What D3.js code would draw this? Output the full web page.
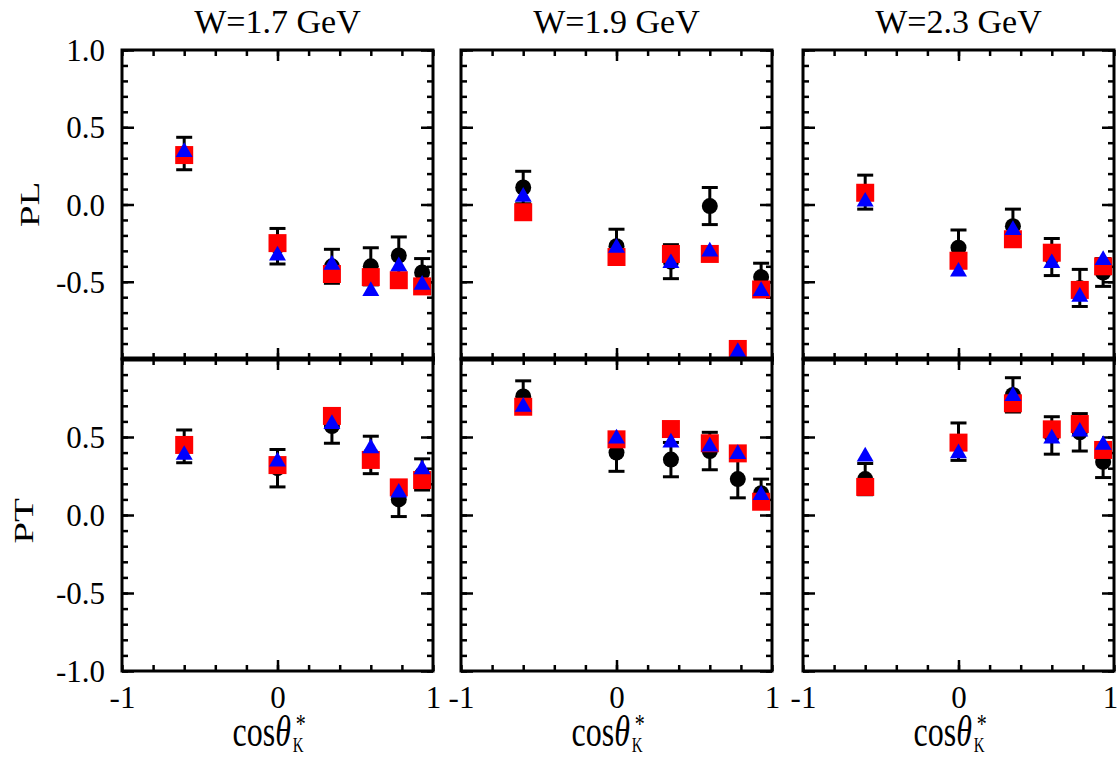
<!DOCTYPE html>
<html>
<head>
<meta charset="utf-8">
<script src="https://cdn.jsdelivr.net/npm/d3@7"></script>
<style>
  body { margin: 0; background: #fff; }
  text { font-family: "Liberation Serif", "Times New Roman", serif; fill: #000; }
</style>
</head>
<body>
<div id="chart"></div>
<script>
// cos(theta_K*) bin centres, same for every panel
const cosTheta = [-0.6, 0, 0.35, 0.6, 0.78, 0.93];
const energies = ["W=1.7 GeV", "W=1.9 GeV", "W=2.3 GeV"];
const rowLabels = ["PL", "PT"];
const yTicksUpper = [1.0, 0.5, 0.0, -0.5];
const yTicksLower = [0.5, 0.0, -0.5, -1.0];
const xTickLabels = [-1, 0, 1];

// PL, one row per W (data with errors, red model, blue model)
const plData = [
  [0.33, -0.27, -0.40, -0.40, -0.33, -0.44],
  [0.11, -0.27, -0.37, -0.01, null, -0.47],
  [0.08, -0.28, -0.14, -0.34, -0.54, -0.44],
];
const plErr = [
  [0.105, 0.115, 0.11, 0.12, 0.12, 0.09],
  [0.105, 0.11, 0.11, 0.12, 0, 0.09],
  [0.11, 0.115, 0.11, 0.12, 0.12, 0.09],
];
const plRed = [
  [0.32, -0.25, -0.45, -0.47, -0.49, -0.53],
  [-0.05, -0.34, -0.32, -0.32, -0.935, -0.55],
  [0.076, -0.364, -0.225, -0.312, -0.553, -0.40],
];
const plBlue = [
  [0.34, -0.33, -0.39, -0.56, -0.40, -0.52],
  [0.05, -0.28, -0.38, -0.305, -0.955, -0.56],
  [0.018, -0.435, -0.165, -0.38, -0.597, -0.36],
];

// PT
const ptData = [
  [0.44, 0.30, 0.57, 0.385, 0.10, 0.26],
  [0.76, 0.40, 0.355, 0.41, 0.23, 0.14],
  [0.23, 0.47, 0.77, 0.51, 0.53, 0.34],
];
const ptErr = [
  [0.105, 0.12, 0.11, 0.12, 0.11, 0.1],
  [0.1, 0.12, 0.11, 0.12, 0.12, 0.09],
  [0.1, 0.12, 0.11, 0.12, 0.12, 0.1],
];
const ptRed = [
  [0.449, 0.32, 0.635, 0.353, 0.177, 0.224],
  [0.694, 0.485, 0.551, 0.46, 0.395, 0.085],
  [0.18, 0.464, 0.716, 0.549, 0.583, 0.417],
];
const ptBlue = [
  [0.385, 0.342, 0.583, 0.427, 0.143, 0.293],
  [0.694, 0.49, 0.464, 0.438, 0.39, 0.128],
  [0.374, 0.395, 0.763, 0.49, 0.534, 0.449],
];

let width = 1119,
  height = 757;
let panelLeft = [122, 461, 803],
  panelWidth = 311;
let plotTop = 50,
  plotMid = 359,
  plotBottom = 671;

let svg = d3
  .select("#chart")
  .append("svg")
  .attr("width", width)
  .attr("height", height);

let rows = [
  {
    label: rowLabels[0],
    data: plData, err: plErr, red: plRed, blue: plBlue,
    y: d3.scaleLinear().domain([-1, 1]).range([plotMid, plotTop]),
    ticks: yTicksUpper,
  },
  {
    label: rowLabels[1],
    data: ptData, err: ptErr, red: ptRed, blue: ptBlue,
    y: d3.scaleLinear().domain([-1, 1]).range([plotBottom, plotMid]),
    ticks: yTicksLower,
  },
];

let fmtY = (d) => d.toFixed(1);
let noDomain = (g) => g.select(".domain").remove();

function tickAxis(axis, values, size) {
  return axis.tickValues(values).tickSize(size).tickFormat("");
}

let circle = d3.symbol().type(d3.symbolCircle).size(Math.PI * 64);
let square = d3.symbol().type(d3.symbolSquare).size(18 * 18);
let triangle = d3.symbol().type(d3.symbolTriangle).size(125);

energies.forEach((title, c) => {
  let x = d3
    .scaleLinear()
    .domain([-1, 1])
    .range([panelLeft[c], panelLeft[c] + panelWidth]);
  let xMinor = x.ticks(8);

  svg
    .append("text")
    .attr("x", x(0))
    .attr("y", 33)
    .attr("text-anchor", "middle")
    .style("font-size", "34px")
    .text(title);

  rows.forEach((row, r) => {
    let y = row.y;
    let g = svg.append("g");
    let yMinor = y.ticks(20);
    let yMajor = y.ticks(4);
    let y0 = y.range()[1],
      y1 = y.range()[0];

    // inward ticks on all four sides
    g.append("g")
      .attr("transform", "translate(" + x(-1) + ",0)")
      .call(tickAxis(d3.axisLeft(y), yMinor, -6))
      .call(noDomain);
    g.append("g")
      .attr("transform", "translate(" + x(-1) + ",0)")
      .call(tickAxis(d3.axisLeft(y), yMajor, -12))
      .call(noDomain);
    g.append("g")
      .attr("transform", "translate(" + x(1) + ",0)")
      .call(tickAxis(d3.axisRight(y), yMinor, -6))
      .call(noDomain);
    g.append("g")
      .attr("transform", "translate(" + x(1) + ",0)")
      .call(tickAxis(d3.axisRight(y), yMajor, -12))
      .call(noDomain);
    g.append("g")
      .attr("transform", "translate(0," + y0 + ")")
      .call(tickAxis(d3.axisTop(x), xMinor, -6))
      .call(noDomain);
    g.append("g")
      .attr("transform", "translate(0," + y0 + ")")
      .call(tickAxis(d3.axisTop(x), [0], -11))
      .call(noDomain);
    g.append("g")
      .attr("transform", "translate(0," + y1 + ")")
      .call(tickAxis(d3.axisBottom(x), xMinor, -6))
      .call(noDomain);
    g.append("g")
      .attr("transform", "translate(0," + y1 + ")")
      .call(tickAxis(d3.axisBottom(x), [0], -11))
      .call(noDomain);
    g.selectAll(".tick line").attr("stroke", "#000").attr("stroke-width", 2.5);

    g.append("rect")
      .attr("x", x(-1))
      .attr("y", y0)
      .attr("width", x(1) - x(-1))
      .attr("height", y1 - y0)
      .attr("fill", "none")
      .attr("stroke", "#000")
      .attr("stroke-width", 3);

    // y tick labels only on the first column
    if (c === 0) {
      g.append("g")
        .attr("transform", "translate(" + x(-1) + ",0)")
        .call(d3.axisLeft(y).tickValues(row.ticks).tickSize(0).tickPadding(17).tickFormat(fmtY))
        .call(noDomain)
        .selectAll("text")
        .attr("font-family", '"Liberation Serif", "Times New Roman", serif')
        .style("font-size", "31px")
        .attr("dy", "0.34em");

      let ly = r === 0 ? y(0) : y(0) + 6;
      let lx = r === 0 ? 39 : 33;
      svg
        .append("text")
        .attr("transform", "translate(" + lx + "," + ly + ") scale(1,1.45) rotate(-90)")
        .attr("text-anchor", "middle")
        .style("font-size", "27px")
        .text(row.label);
    }

    let pts = cosTheta.map((v, i) => ({
      x: v,
      d: row.data[c][i],
      e: row.err[c][i],
      red: row.red[c][i],
      blue: row.blue[c][i],
    }));
    let meas = pts.filter((p) => p.d !== null);

    // error bars
    let eb = g.append("g").attr("stroke", "#000").attr("stroke-width", 3);
    eb.selectAll(".bar")
      .data(meas)
      .join("line")
      .attr("class", "bar")
      .attr("x1", (p) => x(p.x))
      .attr("x2", (p) => x(p.x))
      .attr("y1", (p) => y(p.d - p.e))
      .attr("y2", (p) => y(p.d + p.e));
    eb.selectAll(".capTop")
      .data(meas)
      .join("line")
      .attr("class", "capTop")
      .attr("x1", (p) => x(p.x) - 8)
      .attr("x2", (p) => x(p.x) + 8)
      .attr("y1", (p) => y(p.d + p.e))
      .attr("y2", (p) => y(p.d + p.e));
    eb.selectAll(".capBot")
      .data(meas)
      .join("line")
      .attr("class", "capBot")
      .attr("x1", (p) => x(p.x) - 8)
      .attr("x2", (p) => x(p.x) + 8)
      .attr("y1", (p) => y(p.d - p.e))
      .attr("y2", (p) => y(p.d - p.e));

    g.selectAll(".dot")
      .data(meas)
      .join("path")
      .attr("class", "dot")
      .attr("d", circle)
      .attr("transform", (p) => "translate(" + x(p.x) + "," + y(p.d) + ")")
      .attr("fill", "#000");
    g.selectAll(".sq")
      .data(pts)
      .join("path")
      .attr("class", "sq")
      .attr("d", square)
      .attr("transform", (p) => "translate(" + x(p.x) + "," + y(p.red) + ")")
      .attr("fill", "#ff0000");
    g.selectAll(".tri")
      .data(pts)
      .join("path")
      .attr("class", "tri")
      .attr("d", triangle)
      .attr("transform", (p) => "translate(" + x(p.x) + "," + y(p.blue) + ")")
      .attr("fill", "#0000ff");
  });

  // thicker shared line between PL and PT
  svg
    .append("line")
    .attr("x1", x(-1))
    .attr("x2", x(1) + 2)
    .attr("y1", plotMid)
    .attr("y2", plotMid)
    .attr("stroke", "#000")
    .attr("stroke-width", 5);

  // x tick labels (last "1" nudged in so it stays on the page)
  svg
    .append("g")
    .attr("transform", "translate(0," + plotBottom + ")")
    .call(d3.axisBottom(x).tickValues(xTickLabels).tickSize(0).tickPadding(15).tickFormat((d) => String(d)))
    .call(noDomain)
    .selectAll("text")
    .attr("font-family", '"Liberation Serif", "Times New Roman", serif')
    .attr("dx", (d) => (c === energies.length - 1 && d === 1 ? -4 : 0))
    .style("font-size", "31px");

  // cos theta_K^* label, one text with super/subscript tspans,
  // stretched vertically like the original
  let lab = svg
    .append("g")
    .attr("transform", "translate(" + (x(0) - 45) + ",746) scale(1,1.4)");
  let main = lab.append("text").style("font-size", "32px");
  main.append("tspan").text("cos");
  main.append("tspan").style("font-style", "italic").text("θ");
  main.append("tspan")
    .attr("dx", 5)
    .attr("dy", -9)
    .style("font-size", "20px")
    .text("*");
  main.append("tspan")
    .attr("dx", -13)
    .attr("dy", 13)
    .style("font-size", "15px")
    .text("K");
});
</script>
</body>
</html>
